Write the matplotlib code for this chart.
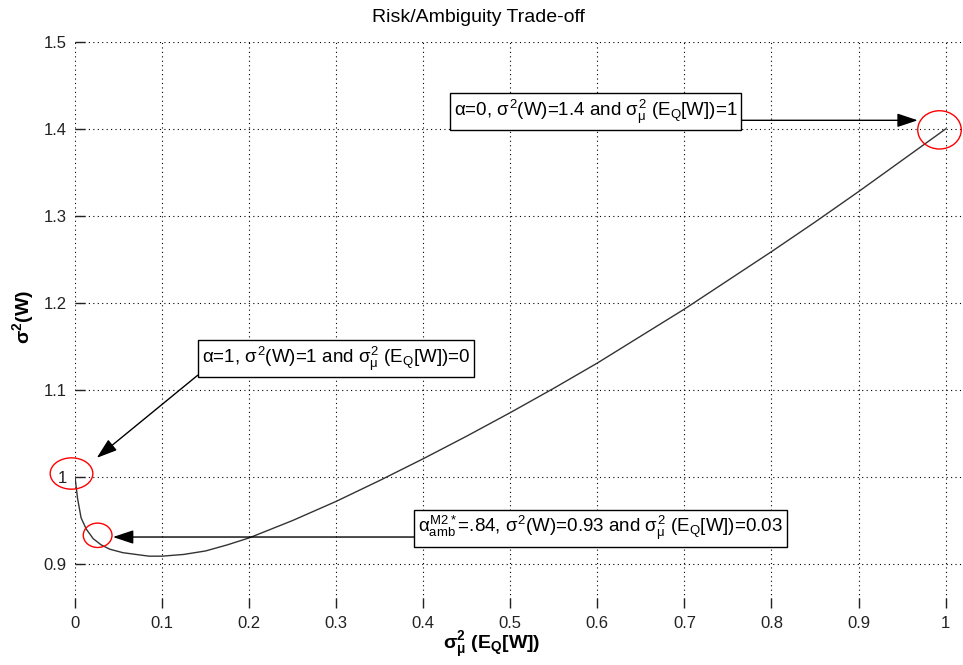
import matplotlib
matplotlib.use("Agg")
import matplotlib.pyplot as plt
from matplotlib.patches import Ellipse

plt.rcParams['font.family'] = ['Liberation Sans', 'DejaVu Sans']
plt.rcParams['mathtext.fontset'] = 'custom'
plt.rcParams['mathtext.rm'] = 'Liberation Sans'
plt.rcParams['mathtext.it'] = 'Liberation Sans'
plt.rcParams['mathtext.bf'] = 'Liberation Sans:bold'

# curve: sigma^2_mu(E_Q[W]) vs sigma^2(W)
amb_var = [0.0, 0.003, 0.007, 0.013, 0.021, 0.030, 0.040, 0.055, 0.070,
           0.085, 0.100, 0.125, 0.150, 0.175, 0.200, 0.250, 0.300, 0.350,
           0.400, 0.450, 0.500, 0.550, 0.600, 0.650, 0.700, 0.750, 0.800,
           0.850, 0.900, 0.950, 1.0]
risk_var = [1.0, 0.975, 0.953, 0.940, 0.929, 0.922, 0.917, 0.913, 0.911,
            0.909, 0.909, 0.911, 0.915, 0.922, 0.930, 0.950, 0.972, 0.996,
            1.021, 1.047, 1.074, 1.102, 1.131, 1.162, 1.193, 1.226, 1.259,
            1.293, 1.328, 1.364, 1.4]

# highlighted points (x, y) and their labels
pt_x = [0.993, -0.004, 0.026]
pt_y = [1.399, 1.004, 0.933]
labels = [r'$\alpha$=0, $\sigma^2$(W)=1.4 and $\sigma^2_\mu$ (E$_Q$[W])=1',
          r'$\alpha$=1, $\sigma^2$(W)=1 and $\sigma^2_\mu$ (E$_Q$[W])=0',
          r'$\alpha^{M2*}_{amb}$=.84, $\sigma^2$(W)=0.93 and $\sigma^2_\mu$ (E$_Q$[W])=0.03']
# arrows: text side -> tip
arr_from = [(0.765, 1.410), (0.141, 1.117), (0.390, 0.931)]
arr_to = [(0.968, 1.410), (0.025, 1.022), (0.0436, 0.931)]
lab_pos = [(0.435, 1.420), (0.146, 1.136), (0.394, 0.941)]

xticks = [0, 0.1, 0.2, 0.3, 0.4, 0.5, 0.6, 0.7, 0.8, 0.9, 1]
yticks = [0.9, 1.0, 1.1, 1.2, 1.3, 1.4, 1.5]

fig = plt.figure(figsize=(9.63, 6.65), dpi=100)
ax = fig.add_axes([75 / 963, 1 - 607.5 / 665, 888 / 963, 565.5 / 665])

ax.plot(amb_var, risk_var, color='#333333', lw=1.0)

# red circles around points (sizes in data units)
ell_w = [0.050, 0.049, 0.033]
ell_h = [0.044, 0.036, 0.028]
for x, y, w, h in zip(pt_x, pt_y, ell_w, ell_h):
    ax.add_patch(Ellipse((x, y), w, h, fill=False, edgecolor='red', lw=1.0,
                         clip_on=False, zorder=4))

for (tx, ty), lab in zip(lab_pos, labels):
    ax.text(tx, ty, lab, fontsize=13.5, ha='left', va='center', zorder=5,
            bbox=dict(boxstyle='square,pad=0.22', fc='white', ec='black', lw=1.0))

for s, e in zip(arr_from, arr_to):
    ax.annotate('', xy=e, xytext=s, zorder=3,
                arrowprops=dict(arrowstyle='-|>,head_length=0.9,head_width=0.3',
                                mutation_scale=14, color='black', lw=1.0,
                                shrinkA=0, shrinkB=0))

ax.set_xlim(0, 1.02)
ax.set_ylim(0.85, 1.5)
ax.set_xticks(xticks)
ax.set_xticklabels(['0', '0.1', '0.2', '0.3', '0.4', '0.5', '0.6', '0.7', '0.8', '0.9', '1'])
ax.set_yticks(yticks)
ax.set_yticklabels(['0.9', '1', '1.1', '1.2', '1.3', '1.4', '1.5'])
ax.tick_params(direction='in', length=7, width=1.0, labelsize=12,
               colors='#222222', pad=6)
for sp in ax.spines.values():
    sp.set_visible(False)
ax.grid(True, color='black', linestyle=(0, (1, 3)), lw=0.8)

fig.text(478 / 963, 1 - 17 / 665, 'Risk/Ambiguity Trade-off', fontsize=14,
         ha='center', va='center')
fig.text(492 / 963, 1 - 645 / 665, r'$\mathbf{\sigma^2_\mu}$ $\mathbf{(E_Q[W])}$',
         fontsize=14, ha='center', va='center')
fig.text(23 / 963, 1 - 317 / 665, r'$\mathbf{\sigma^2(W)}$', fontsize=14,
         ha='center', va='center', rotation=90)

fig.savefig('out.png', dpi=100)
